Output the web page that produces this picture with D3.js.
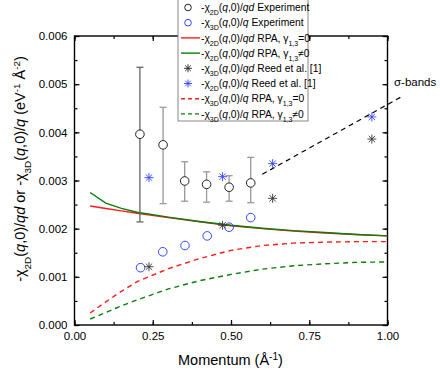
<!DOCTYPE html>
<html lang="en">
<head>
<meta charset="UTF-8">
<title>Static susceptibility vs momentum</title>
<script src="https://d3js.org/d3.v7.min.js"></script>
<style>
  body { margin: 0; background: #fff; }
  svg { font-family: "Liberation Sans", Arial, sans-serif; }
  .tick text { font-size: 11.5px; fill: #000; }
  .leg { font-size: 10.3px; }
</style>
</head>
<body>
<svg id="chart" width="440" height="371"></svg>
<script>
// experiment, 2D (open black circles with error bars)
const exp2dQ   = [0.209, 0.283, 0.352, 0.422, 0.494, 0.563];
const exp2dVal = [0.00396, 0.00374, 0.00299, 0.00292, 0.00286, 0.00295];
const exp2dLo  = [0.00214, 0.00252, 0.00257, 0.00255, 0.00257, 0.00254];
const exp2dHi  = [0.00535, 0.00452, 0.00339, 0.00318, 0.00310, 0.00348];

// experiment, 3D (open blue circles)
const exp3dQ   = [0.211, 0.282, 0.353, 0.424, 0.494, 0.563];
const exp3dVal = [0.00119, 0.00152, 0.00165, 0.00185, 0.00203, 0.00223];

// Reed et al.
const reedQ    = [0.238, 0.473, 0.633, 0.950];
const reed2d   = [0.00121, 0.00207, 0.00263, 0.00386];
const reed3d   = [0.00306, 0.00308, 0.00335, 0.00432];

// RPA curves
const rpaQ     = [0.05, 0.10, 0.15, 0.20, 0.30, 0.40, 0.50, 0.60, 0.70, 0.80, 0.90, 1.00];
const rpa2dG0  = [0.00247, 0.00242, 0.00237, 0.00232, 0.00223, 0.00214, 0.00206, 0.00200, 0.00195, 0.00191, 0.00188, 0.00185];
const rpa2dG1  = [0.00275, 0.00253, 0.00242, 0.00234, 0.00224, 0.00215, 0.00207, 0.00201, 0.00196, 0.00192, 0.00188, 0.00185];
const rpa3dG0  = [0.00025, 0.00048, 0.00070, 0.00090, 0.00117, 0.00138, 0.00155, 0.00165, 0.00170, 0.00172, 0.00173, 0.00173];
const rpa3dG1  = [0.000125, 0.00026, 0.00040, 0.00052, 0.00075, 0.00092, 0.00105, 0.00116, 0.00123, 0.00127, 0.00130, 0.00131];

// sigma-bands guide line
const sigmaQ   = [0.60, 1.045];
const sigmaVal = [0.00313, 0.00474];

const xTicks = [0, 0.25, 0.5, 0.75, 1.0];
const yTicks = [0, 0.001, 0.002, 0.003, 0.004, 0.005, 0.006];

const svg = d3.select("#chart");
const L = 74.5, R = 387.5, T = 36, B = 325;
const x = d3.scaleLinear().domain([0, 1]).range([L, R]);
const y = d3.scaleLinear().domain([0, 0.006]).range([B, T]);

const RED = "#ff1a1a", GREEN = "#0a7d0a", BLUE = "#3344ff";

// axes with inward ticks (major + minor), mirrored on top/right
const xMinor = d3.range(0, 1.001, 0.125);
const yMinor = d3.range(0, 0.00601, 0.0005);
function drawAxis(axisFn, scale, ticks, minor, transform, labels, fmt) {
  const gMinor = svg.append("g").attr("transform", transform)
    .call(axisFn(scale).tickValues(minor).tickSize(-3).tickFormat(""));
  gMinor.select(".domain").remove();
  const g = svg.append("g").attr("transform", transform)
    .call(axisFn(scale).tickValues(ticks).tickSize(-5).tickSizeOuter(0)
      .tickPadding(labels ? 7 : 0).tickFormat(labels ? fmt : ""));
  g.select(".domain").remove();
  g.selectAll("line").attr("stroke", "#000").attr("stroke-width", 1.2);
  gMinor.selectAll("line").attr("stroke", "#000").attr("stroke-width", 1.2);
  return g;
}
drawAxis(d3.axisBottom, x, xTicks, xMinor, `translate(0,${B})`, true, d3.format(".2f"));
drawAxis(d3.axisTop, x, xTicks, xMinor, `translate(0,${T})`, false);
drawAxis(d3.axisLeft, y, yTicks, yMinor, `translate(${L},0)`, true, d3.format(".3f"));
drawAxis(d3.axisRight, y, yTicks, yMinor, `translate(${R},0)`, false);

svg.append("rect").attr("x", L).attr("y", T).attr("width", R - L).attr("height", B - T)
  .attr("fill", "none").attr("stroke", "#000").attr("stroke-width", 1.4);

// curves
const line = d3.line().x(d => x(d[0])).y(d => y(d[1]));
function curve(vals, color, dash) {
  svg.append("path").datum(rpaQ.map((q, i) => [q, vals[i]]))
    .attr("d", line).attr("fill", "none").attr("stroke", color)
    .attr("stroke-width", 1.4).attr("stroke-dasharray", dash || null);
}
curve(rpa3dG1, GREEN, "5,4");
curve(rpa3dG0, RED, "5,4");
curve(rpa2dG0, RED);
curve(rpa2dG1, GREEN);

svg.append("path").datum(sigmaQ.map((q, i) => [q, sigmaVal[i]]))
  .attr("d", line).attr("fill", "none").attr("stroke", "#000")
  .attr("stroke-width", 1.2).attr("stroke-dasharray", "5,4");

// error bars
exp2dQ.forEach((q, i) => {
  const c = i === 0 ? "#666" : "#999";
  const g = svg.append("g").attr("stroke", c).attr("stroke-width", 1.3);
  g.append("line").attr("x1", x(q)).attr("x2", x(q)).attr("y1", y(exp2dLo[i])).attr("y2", y(exp2dHi[i]));
  [exp2dLo[i], exp2dHi[i]].forEach(v => g.append("line")
    .attr("x1", x(q) - 3.5).attr("x2", x(q) + 3.5).attr("y1", y(v)).attr("y2", y(v)));
});

function asterisk(r) {
  const p = d3.path();
  for (let k = 0; k < 4; k++) {
    const a = k * Math.PI / 4;
    p.moveTo(-r * Math.cos(a), -r * Math.sin(a));
    p.lineTo(r * Math.cos(a), r * Math.sin(a));
  }
  return p.toString();
}

svg.append("g").selectAll("circle").data(exp2dQ).join("circle")
  .attr("cx", d => x(d)).attr("cy", (d, i) => y(exp2dVal[i])).attr("r", 4.3)
  .attr("fill", "#fff").attr("stroke", "#222").attr("stroke-width", 1);
svg.append("g").selectAll("circle").data(exp3dQ).join("circle")
  .attr("cx", d => x(d)).attr("cy", (d, i) => y(exp3dVal[i])).attr("r", 4.3)
  .attr("fill", "none").attr("stroke", BLUE).attr("stroke-width", 1);
svg.append("g").selectAll("path").data(reedQ).join("path")
  .attr("transform", (d, i) => `translate(${x(d)},${y(reed2d[i])})`)
  .attr("d", asterisk(4.5)).attr("stroke", "#333").attr("stroke-width", 0.9);
svg.append("g").selectAll("path").data(reedQ).join("path")
  .attr("transform", (d, i) => `translate(${x(d)},${y(reed3d[i])})`)
  .attr("d", asterisk(4.5)).attr("stroke", BLUE).attr("stroke-width", 0.9);

// sigma-bands label
svg.append("text").attr("x", 394).attr("y", 86).attr("font-size", 11.5).text("σ-bands");

// axis titles
svg.append("text").attr("x", (L + R) / 2 - 0.5).attr("y", 365).attr("text-anchor", "middle")
  .attr("font-size", 14.5)
  .call(t => {
    t.append("tspan").text("Momentum (Å");
    t.append("tspan").attr("font-size", "70%").attr("baseline-shift", "super").text("-1");
    t.append("tspan").text(")");
  });

function rich(t, parts) {
  parts.forEach(p => {
    const s = t.append("tspan").text(p[0]);
    if (p[1] === "i") s.attr("font-style", "italic");
    if (p[1] === "sub") s.attr("font-size", "68%").attr("baseline-shift", "sub");
    if (p[1] === "sup") s.attr("font-size", "68%").attr("baseline-shift", "super");
  });
}

svg.append("text").attr("transform", "translate(25,169) rotate(-90)")
  .attr("text-anchor", "middle").attr("font-size", 14.5)
  .call(t => rich(t, [["-χ"], ["2D", "sub"], ["("], ["q", "i"], [",0)/"], ["qd", "i"],
    [" or -χ"], ["3D", "sub"], ["("], ["q", "i"], [",0)/"], ["q", "i"], [" (eV"], ["-1", "sup"],
    [" Å"], ["-2", "sup"], [")"]]));

// legend
const legend = [
  { kind: "circle", color: "#222", dim: "2D", den: "qd", tail: [[" Experiment"]] },
  { kind: "circle", color: BLUE, dim: "3D", den: "q", tail: [[" Experiment"]] },
  { kind: "line", color: RED, dim: "2D", den: "qd", tail: [[" RPA, γ"], ["1,3", "sub"], ["=0"]] },
  { kind: "line", color: GREEN, dim: "2D", den: "qd", tail: [[" RPA, γ"], ["1,3", "sub"], ["≠0"]] },
  { kind: "star", color: "#222", dim: "3D", den: "qd", tail: [[" Reed et al. [1]"]] },
  { kind: "star", color: BLUE, dim: "2D", den: "q", tail: [[" Reed et al. [1]"]] },
  { kind: "dash", color: RED, dim: "3D", den: "q", tail: [[" RPA, γ"], ["1,3", "sub"], ["=0"]] },
  { kind: "dash", color: GREEN, dim: "3D", den: "q", tail: [[" RPA, γ"], ["1,3", "sub"], ["≠0"]] }
];
const lg = svg.append("g");
lg.append("rect").attr("x", 178).attr("y", -1).attr("width", 130).attr("height", 122)
  .attr("fill", "#fff").attr("stroke", "#888").attr("stroke-width", 1);
legend.forEach((d, i) => {
  const cy = 7.5 + i * 15.2;
  if (d.kind === "circle") {
    lg.append("circle").attr("cx", 188).attr("cy", cy).attr("r", 3.3)
      .attr("fill", "none").attr("stroke", d.color).attr("stroke-width", 1);
  } else if (d.kind === "star") {
    lg.append("path").attr("transform", `translate(188,${cy})`).attr("d", asterisk(4))
      .attr("stroke", d.color).attr("stroke-width", 0.9);
  } else {
    lg.append("line").attr("x1", 181).attr("x2", 200).attr("y1", cy).attr("y2", cy)
      .attr("stroke", d.color).attr("stroke-width", 1.4)
      .attr("stroke-dasharray", d.kind === "dash" ? "4,3" : null);
  }
  lg.append("text").attr("class", "leg").attr("x", 201).attr("y", cy + 3.6)
    .call(t => rich(t, [["-χ"], [d.dim, "sub"], ["("], ["q", "i"], [",0)/"], [d.den, "i"]].concat(d.tail)));
});
</script>
</body>
</html>
